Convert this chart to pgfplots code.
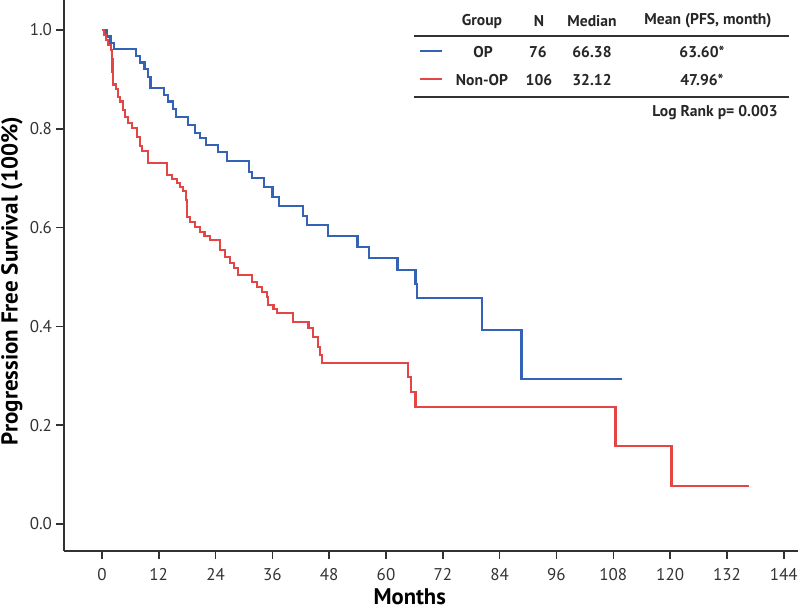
\documentclass[border=0pt]{standalone}
\usepackage{pgfplots}
\pgfplotsset{compat=1.18}
\usepackage{fontspec}
\setmainfont{PT Sans}
\usetikzlibrary{calc}
\definecolor{opblue}{RGB}{52,98,180}
\definecolor{nonred}{RGB}{228,70,70}
\definecolor{axgray}{RGB}{50,50,50}

\begin{document}
\begin{tikzpicture}
\begin{axis}[
  scale only axis,
  width=367pt, height=275.5pt,
  xmin=-8.0, xmax=147.0,
  ymin=-0.0547, ymax=1.0607,
  axis x line*=bottom, axis y line*=left,
  axis line style={-, axgray, line width=1pt},
  xtick={0,12,24,36,48,60,72,84,96,108,120,132,144},
  ytick={0,0.2,0.4,0.6,0.8,1.0},
  tick align=outside,
  major tick length=4pt,
  tick style={axgray, line width=0.8pt},
  /pgf/number format/assume math mode=true,
  ticklabel style={font=\fontsize{8.5}{10}\selectfont, text=black!80},
  yticklabel style={xshift=1.5pt, /pgf/number format/.cd, fixed, fixed zerofill, precision=1},
  xticklabel style={yshift=-1pt},
  xlabel={Months},
  ylabel={Progression Free Survival (100\%)},
  xlabel style={font=\fontsize{11.3}{13}\selectfont\bfseries, at={(axis description cs:0.471,0)}, anchor=center, yshift=-23pt},
  ylabel style={font=\fontsize{11.5}{13}\selectfont\bfseries, at={(axis description cs:0,0.49)}, anchor=center, yshift=26pt},
  clip=false,
]
% OP group
\addplot[const plot, opblue, line width=1.2pt] coordinates {
(0,1.000) (1.0,0.987) (1.8,0.974) (2.5,0.961) (7.2,0.947) (8.0,0.934) (9.0,0.921)
(9.8,0.905) (10.3,0.882) (13.1,0.868) (14.0,0.855) (15.0,0.840) (15.6,0.824)
(18.2,0.808) (19.7,0.792) (20.7,0.781) (22.0,0.767) (24.5,0.753) (26.4,0.735)
(31.1,0.713) (31.7,0.700) (34.2,0.682) (36.0,0.662) (37.4,0.644) (42.5,0.623)
(43.3,0.605) (47.8,0.583) (54.0,0.561) (56.4,0.538) (62.4,0.514) (66.2,0.486)
(66.6,0.457) (80.3,0.393) (88.6,0.294) (109.9,0.294)
};
% Non-OP group
\addplot[const plot, nonred, line width=1.2pt] coordinates {
(0,1.000) (0.4,0.990) (0.85,0.980) (1.3,0.970) (1.9,0.960) (2.1,0.940) (2.2,0.915)
(2.4,0.890) (3.0,0.880) (3.4,0.864) (3.8,0.855) (4.4,0.838) (4.9,0.824) (5.5,0.812)
(6.3,0.802) (7.4,0.783) (8.0,0.765) (8.5,0.755) (9.7,0.731) (13.7,0.706) (14.8,0.698)
(15.9,0.690) (16.5,0.682) (17.1,0.674) (17.8,0.656) (18.0,0.621) (18.6,0.611)
(19.7,0.601) (20.7,0.591) (21.7,0.583) (22.8,0.575) (24.9,0.555) (26.0,0.540)
(27.1,0.528) (27.9,0.518) (28.8,0.504) (31.7,0.490) (32.8,0.480) (33.8,0.470)
(34.9,0.460) (35.1,0.443) (36.2,0.435) (37.0,0.427) (40.4,0.409) (43.6,0.397)
(44.6,0.379) (45.7,0.358) (46.1,0.342) (46.5,0.326) (64.7,0.298) (65.3,0.267)
(66.2,0.237) (108.5,0.158) (120.3,0.077) (136.6,0.077)
};
\end{axis}
\begin{scope}[shift={($(current axis.north west)+(-32pt,0)$)}, x=0.5pt, y=-0.5pt,
  every node/.style={font=\fontsize{7.8}{9}\selectfont\bfseries, text=black!85, inner sep=0pt}]
  \node at (482,21) {Group};
  \node at (539,21) {N};
  \node at (592,21) {Median};
  \node at (708,21) {Mean (PFS, month)};
  \draw[axgray, line width=0.8pt] (414,36) -- (789,36);
  \node at (431,52) {\textcolor{opblue}{\rule[0.25ex]{11pt}{0.9pt}}};
  \node at (483,52) {OP};
  \node at (538,52) {76};
  \node at (592,52) {66.38};
  \node at (702,52) {63.60*};
  \node at (431,80) {\textcolor{nonred}{\rule[0.25ex]{11pt}{0.9pt}}};
  \node at (482,80) {Non-OP};
  \node at (539,80) {106};
  \node at (592,80) {32.12};
  \node at (702,80) {47.96*};
  \draw[axgray, line width=0.8pt] (414,97) -- (789,97);
  \node[anchor=east] at (778,113) {Log Rank p= 0.003};
\end{scope}
\pgfresetboundingbox
\path[use as bounding box] ($(current axis.north west)+(-32pt,0)$) rectangle ($(current axis.north west)+(368pt,-305pt)$);
\end{tikzpicture}
\end{document}
